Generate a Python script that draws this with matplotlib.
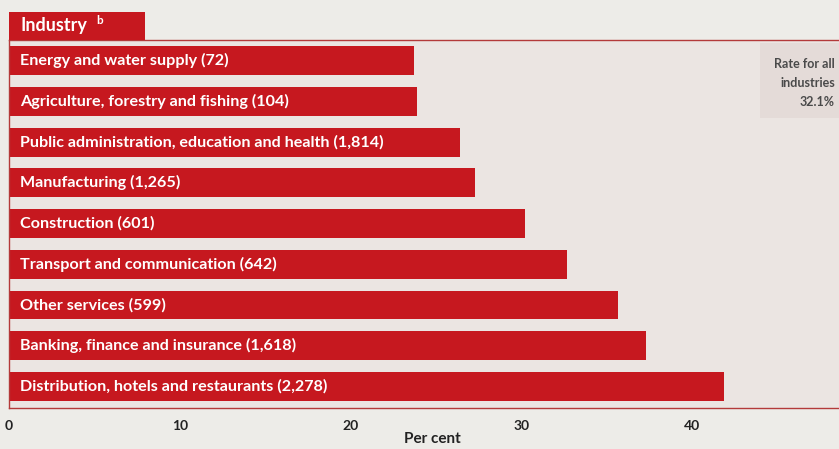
import matplotlib
matplotlib.use("Agg")
import matplotlib.pyplot as plt
from matplotlib.patches import Rectangle

categories = [
    "Energy and water supply (72)",
    "Agriculture, forestry and fishing (104)",
    "Public administration, education and health (1,814)",
    "Manufacturing (1,265)",
    "Construction (601)",
    "Transport and communication (642)",
    "Other services (599)",
    "Banking, finance and insurance (1,618)",
    "Distribution, hotels and restaurants (2,278)",
]
values = [23.7, 23.9, 26.4, 27.3, 30.2, 32.7, 35.7, 37.3, 41.9]
xticks = [0, 10, 20, 30, 40, 50]
all_rate = 32.1

RED = "#c6181f"
LINE = "#b33a3a"
FIG_BG = "#edece8"
PANEL_BG = "#ebe5e2"
FONT = "Lato"

W, H = 839, 449
fig = plt.figure(figsize=(W / 100, H / 100), dpi=100, facecolor=FIG_BG)

left_px, right_px = 9, 9 + 50 * 17.07
top_px, bot_px = 40, 408
ax = fig.add_axes([left_px / W, 1 - bot_px / H, (right_px - left_px) / W, (bot_px - top_px) / H])
ax.set_facecolor(PANEL_BG)

ypos = list(range(len(categories)))
ax.barh(ypos, values, height=0.71, color=RED, edgecolor="none", zorder=2)
for y, lab in zip(ypos, categories):
    ax.text(0.65, y, lab, color="white", fontsize=11.6, fontweight="bold",
            family=FONT, va="center", ha="left", zorder=3)

ax.set_xlim(0, 50)
ax.set_ylim(8.53, -0.51)
ax.set_yticks([])
ax.set_xticks(xticks)
ax.set_xticklabels([str(t) for t in xticks], fontsize=10, fontweight="bold",
                   family=FONT, color="#222222")
ax.tick_params(axis="x", length=0, pad=9)
ax.set_xlabel("Per cent", fontsize=11, fontweight="bold", family=FONT,
              color="#222222", labelpad=3)
ax.xaxis.set_label_coords((432 - left_px) / (right_px - left_px), -0.065)

for s in ["top", "left", "bottom"]:
    ax.spines[s].set_color(LINE)
    ax.spines[s].set_linewidth(1.0)
ax.spines["right"].set_visible(False)

# header box
fig.patches.append(Rectangle((9 / W, 1 - 40 / H), (145 - 9) / W, (40 - 12) / H,
                             transform=fig.transFigure, facecolor=RED,
                             edgecolor="none", zorder=5))
fig.text(21 / W, 1 - 26 / H, "Industry", color="white", fontsize=13,
         fontweight="bold", family=FONT, va="center", ha="left", zorder=6)
fig.text(96 / W, 1 - 20 / H, "b", color="white", fontsize=8.5,
         fontweight="bold", family=FONT, va="center", ha="left", zorder=6)

# rate box
fig.patches.append(Rectangle((760 / W, 1 - 118 / H), (839 - 760) / W, (118 - 43) / H,
                             transform=fig.transFigure, facecolor="#e4dbd8",
                             edgecolor="none", zorder=1))
fig.text(835 / W, 1 - 83 / H, "Rate for all\nindustries\n%.1f%%" % all_rate,
         color="#4a4a4a", fontsize=9, fontweight="bold", family=FONT,
         ha="right", va="center", linespacing=1.7, zorder=6)

fig.savefig("out.png", dpi=100, facecolor=FIG_BG)
